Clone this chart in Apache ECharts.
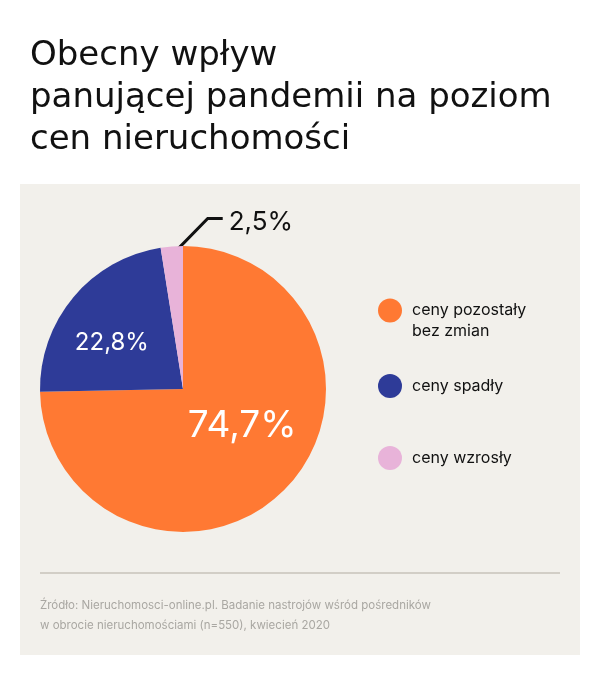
<!DOCTYPE html>
<html>
<head>
<meta charset="utf-8">
<script src="https://cdn.jsdelivr.net/npm/echarts@6/dist/echarts.min.js"></script>
<style>
  html, body { margin: 0; padding: 0; background: #fff; }
  #chart { width: 600px; height: 675px; }
</style>
</head>
<body>
<div id="chart"></div>
<script>
// --- Data ---
const categories = ['ceny pozostały\nbez zmian', 'ceny spadły', 'ceny wzrosły'];
const shares = [74.7, 22.8, 2.5];
const colors = ['#ff7933', '#2e3b98', '#e8b3d9'];
const titleLines = ['Obecny wpływ', 'panującej pandemii na poziom', 'cen nieruchomości'];
const sourceLines = [
    'Źródło: Nieruchomosci-online.pl. Badanie nastrojów wśród pośredników',
    'w obrocie nieruchomościami (n=550), kwiecień 2020'
];

// --- Layout ---
const FONT = 'Inter, "Noto Sans", sans-serif';
const TITLE_FONT = '"DejaVu Sans", Inter, sans-serif';
const cx = 183, cy = 389, r = 143;
const legendTops = [279, 374, 446];

const fmt = v => String(v).replace('.', ',') + '%';

const chart = echarts.init(document.getElementById('chart'));

// leader line for the small slice: starts inside the slice, bends up-right
function smallLabel(p) {
    if (p.dataIndex !== 2) return {};
    const total = shares.reduce((a, b) => a + b, 0);
    const before = shares.slice(0, 2).reduce((a, b) => a + b, 0);
    const midDeg = 90 - 360 * (before + shares[2] / 2) / total;
    const a = midDeg * Math.PI / 180;
    const s = [cx + (r - 12) * Math.cos(a) - 4, cy - (r - 12) * Math.sin(a)];
    const m = [s[0] + 39, s[1] - 40];
    const e = [m[0] + 15, m[1]];
    return {
        x: e[0] + 6, y: e[1] + 4,
        align: 'left', verticalAlign: 'middle',
        labelLinePoints: [s, m, e]
    };
}

// one legend block per category; a blank leading line keeps the
// marker of the two-line entry level with its first line
const legends = categories.map((name, i) => ({
    orient: 'vertical',
    left: 378, top: legendTops[i],
    padding: 0,
    icon: 'circle',
    itemWidth: 24, itemHeight: 24,
    selectedMode: false,
    data: [name],
    formatter: n => n.indexOf('\n') >= 0 ? ' \n' + n : n,
    textStyle: {
        fontFamily: FONT, fontSize: 16, color: '#111', lineHeight: 21,
        padding: [0, 0, 0, 5]
    }
}));

const option = {
    backgroundColor: '#ffffff',
    animation: false,
    title: {
        text: titleLines.join('\n'),
        left: 25, top: 30,
        textStyle: {
            fontFamily: TITLE_FONT, fontSize: 34, fontWeight: 'normal',
            color: '#111', lineHeight: 42
        }
    },
    legend: legends,
    graphic: [
        {
            type: 'rect', z: -10,
            shape: { x: 20, y: 184, width: 560, height: 471 },
            style: { fill: '#f2f0eb' }
        },
        {
            type: 'line', z: -5,
            shape: { x1: 40, y1: 573, x2: 560, y2: 573 },
            style: { stroke: '#d2cec6', lineWidth: 2 }
        },
        {
            type: 'text', left: 40, top: 596,
            style: {
                text: sourceLines.join('\n'),
                font: '11.5px ' + FONT, fill: '#a9a7a2', lineHeight: 20
            }
        }
    ],
    series: [{
        type: 'pie',
        center: [cx, cy],
        radius: [0, r],
        startAngle: 90,
        clockwise: true,
        silent: true,
        label: { show: false },
        labelLine: { show: false },
        labelLayout: smallLabel,
        data: categories.map((name, i) => {
            const d = { name: name, value: shares[i], itemStyle: { color: colors[i] } };
            if (i === 0) {
                d.label = { show: true, position: 'inside', formatter: fmt(shares[i]),
                    color: '#fff', fontFamily: FONT, fontSize: 37, offset: [6, -15] };
            } else if (i === 1) {
                d.label = { show: true, position: 'inside', formatter: fmt(shares[i]),
                    color: '#fff', fontFamily: FONT, fontSize: 24, offset: [-14, 2] };
            } else {
                d.label = { show: true, position: 'outside', formatter: fmt(shares[i]),
                    color: '#111', fontFamily: FONT, fontSize: 26 };
                d.labelLine = { show: true, length: 20, length2: 15,
                    lineStyle: { color: '#111', width: 3 } };
            }
            return d;
        })
    }]
};

chart.setOption(option);
</script>
</body>
</html>
